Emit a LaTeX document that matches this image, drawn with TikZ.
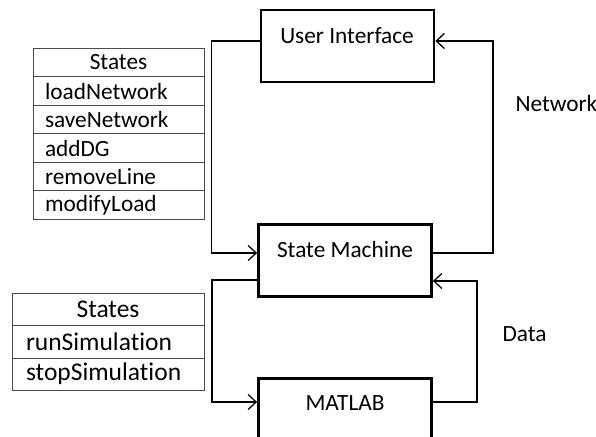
\documentclass[tikz,border=0pt]{standalone}
\usepackage{fontspec}
\setmainfont{Carlito}[Ligatures=NoCommon]
\usetikzlibrary{arrows.meta}

\tikzset{
  blockbox/.style={draw=black, line width=2.8pt, minimum width=173pt, minimum height=72pt, inner sep=0pt},
  conn/.style={line width=1.3pt, -{Straight Barb[length=8pt,width=15pt,line width=1.3pt]}},
  rowbox/.style={draw=black!70, line width=0.8pt, inner xsep=7pt, inner ysep=0pt, align=left},
  boxtext/.style={font=\fontsize{23.3}{27}\selectfont}
}

\begin{document}
\begin{tikzpicture}[x=1pt,y=-1pt]
	\clip (0,0) rectangle (596,436);
	% blocks
	\node[blockbox] (ui) at (347.5,46) {};
	\node[boxtext] (uitext) at (347,36) {User Interface};
	\node[blockbox] (sm) at (345,260.5) {};
	\node[boxtext] (smtext) at (345,249) {State Machine};
	\node[blockbox] (mat) at (345,414.5) {};
	\node[boxtext] (mattext) at (345,403) {MATLAB};

	% connectors
	\draw[conn] ([yshift=5pt]ui.west) -- ++(-48,0) |- ([yshift=7.5pt]sm.west);
	\draw[conn] ([yshift=7.5pt]sm.east) -- ++(60,0) |- ([yshift=5pt]ui.east);
	\draw[conn] ([yshift=-19.5pt]sm.west) -- ++(-45,0) |- ([yshift=12.5pt]mat.west);
	\draw[conn] ([yshift=12.5pt]mat.east) -- ++(44,0) |- ([yshift=-20.5pt]sm.east);

	% labels
	\node[boxtext, anchor=west] (netlabel) at (512,103) {Network};
	\node[boxtext, anchor=west] (datalabel) at (499,334) {Data};

	% states table (top)
	\begin{scope}[every node/.style={rowbox, boxtext, text width=147pt, inner xsep=12pt, minimum height=28.5pt}]
	\node[align=center] (sa0) at (118.5,62.5) {States};
	\node (sa1) at (118.5,91) {loadNetwork};
	\node (sa2) at (118.5,119.5) {saveNetwork};
	\node (sa3) at (118.5,148) {addDG};
	\node (sa4) at (118.5,176.5) {removeLine};
	\node (sa5) at (118.5,205) {modifyLoad};
	\end{scope}

	% states table (bottom)
	\begin{scope}[every node/.style={rowbox, font=\fontsize{25.5}{29}\selectfont, text width=164pt, inner xsep=14pt, minimum height=32.3pt}]
	\node[align=center] (sb0) at (108,309.5) {States};
	\node (sb1) at (108,341.8) {runSimulation};
	\node (sb2) at (108,374.1) {stopSimulation};
	\end{scope}
\end{tikzpicture}
\end{document}
